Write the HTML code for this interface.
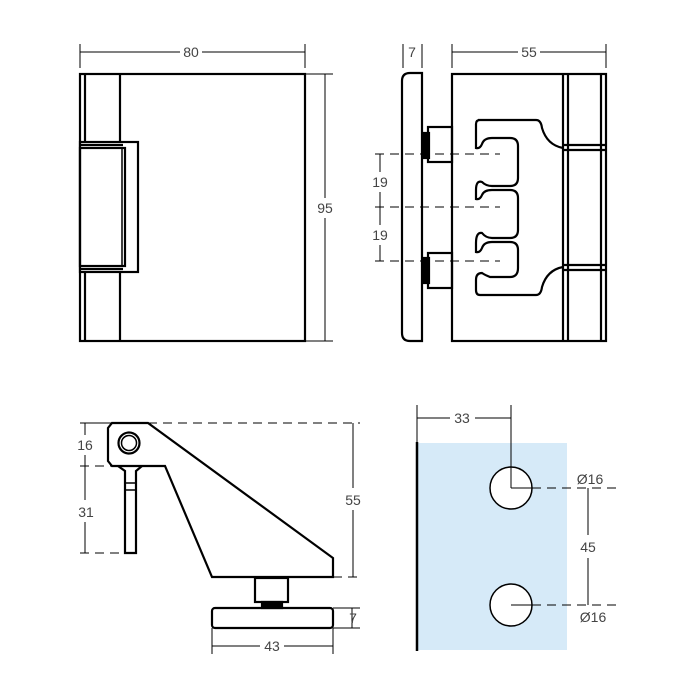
<!DOCTYPE html>
<html><head><style>body{margin:0;background:#fff}svg{display:block}text{font-family:"Liberation Sans",sans-serif;font-size:14px;fill:#444}</style></head><body>
<svg width="700" height="700" viewBox="0 0 700 700" xmlns="http://www.w3.org/2000/svg">
<g fill="none" stroke="#000" stroke-width="2.2">
<!-- top-left view -->
<rect x="80" y="74" width="225" height="267"/>
<line x1="85" y1="74" x2="85" y2="341"/>
<line x1="120" y1="74" x2="120" y2="341"/>
<rect x="80" y="142" width="58" height="130" fill="#fff"/>
<rect x="80" y="148" width="45" height="118"/>
<line x1="80" y1="145" x2="123" y2="145"/>
<line x1="80" y1="269" x2="123" y2="269"/>
<line x1="122" y1="148" x2="122" y2="266" stroke-width="1.5"/>
<!-- top-right view -->
<path d="M410 73 H422 V341 H410 Q402 341 402 333 V81 Q402 73 410 73 Z"/>
<rect x="452" y="74" width="154" height="267"/>
<line x1="563" y1="74" x2="563" y2="341"/>
<line x1="568" y1="74" x2="568" y2="341"/>
<line x1="601" y1="74" x2="601" y2="341"/>
<line x1="563" y1="145" x2="606" y2="145"/><line x1="563" y1="150" x2="606" y2="150"/>
<line x1="563" y1="265" x2="606" y2="265"/><line x1="563" y1="270" x2="606" y2="270"/>
<rect x="428" y="127" width="24" height="35"/>
<rect x="428" y="253" width="24" height="35"/>
<rect x="424" y="133" width="5" height="25" fill="#000"/>
<rect x="424" y="258" width="5" height="25" fill="#000"/>
<path d="M478 120 H536 Q541 120 542 128 Q547 145 563 148 M563 267 Q547 270 542 287 Q541 295 536 295 H480 Q476 295 476 290 V280 Q476 273 482 273 Q485 275 490 277 H510 Q518 277 518 268 V250 Q518 242 510 242 H492 Q484 242 482 248 Q480 253 476 252 V243 Q476 232 482 233 Q486 238 492 238 H510 Q518 238 518 230 V198 Q518 190 510 190 H492 Q484 190 482 195 Q480 200 476 199 V190 Q476 180 482 182 Q486 186 492 186 H510 Q518 186 518 178 V146 Q518 138 510 138 H492 Q484 138 482 144 Q480 149 476 148 V124 Q476 120 480 120"/>
<!-- bottom-left view -->
<path d="M112 423 H148 L333 558 V577 H212 L165 466 H112 L108 461 V428 Z"/>
<circle cx="129" cy="443" r="10.5"/><circle cx="129" cy="443" r="7.5" stroke-width="1.5"/>
<path d="M118 466 L125 471 V553 H136 V471 L142 466"/>
<line x1="125" y1="483" x2="136" y2="483" stroke-width="1.5"/><line x1="125" y1="490" x2="136" y2="490" stroke-width="1.5"/>
<rect x="255" y="578" width="33" height="24"/>
<rect x="262" y="602" width="20" height="6" fill="#000"/>
<rect x="212" y="608" width="121" height="20" rx="3"/>
<!-- bottom-right -->
</g>
<rect x="417" y="443" width="150" height="207" fill="#d6eaf8"/>
<g fill="none" stroke="#000">
<line x1="417" y1="442" x2="417" y2="651" stroke-width="2.5"/>
<circle cx="511" cy="488" r="21" fill="#fff" stroke-width="1.5"/>
<circle cx="511" cy="605" r="21" fill="#fff" stroke-width="1.5"/>
<g stroke-width="1">
<line x1="511" y1="405" x2="511" y2="488"/><line x1="511" y1="488" x2="532" y2="488"/>
<line x1="511" y1="605" x2="532" y2="605"/>
<line x1="417" y1="405" x2="417" y2="442"/>
<line x1="417" y1="418" x2="450" y2="418"/><line x1="475" y1="418" x2="511" y2="418"/>
<line x1="532" y1="488" x2="620" y2="488" stroke-dasharray="9,6"/>
<line x1="532" y1="605" x2="620" y2="605" stroke-dasharray="9,6"/>
<line x1="588" y1="488" x2="588" y2="535"/><line x1="588" y1="558" x2="588" y2="605"/>
<!-- top dims -->
<line x1="80" y1="44" x2="80" y2="68"/><line x1="305" y1="44" x2="305" y2="68"/>
<line x1="80" y1="52" x2="180" y2="52"/><line x1="202" y1="52" x2="305" y2="52"/>
<line x1="305" y1="74" x2="333" y2="74"/><line x1="305" y1="341" x2="333" y2="341"/>
<line x1="325" y1="74" x2="325" y2="198"/><line x1="325" y1="218" x2="325" y2="341"/>
<line x1="403" y1="44" x2="403" y2="68"/><line x1="422" y1="44" x2="422" y2="68"/>
<line x1="452" y1="44" x2="452" y2="68"/><line x1="606" y1="44" x2="606" y2="68"/>
<line x1="452" y1="52" x2="518" y2="52"/><line x1="540" y1="52" x2="606" y2="52"/>
<line x1="375" y1="154" x2="500" y2="154" stroke-dasharray="9,6"/>
<line x1="375" y1="207" x2="500" y2="207" stroke-dasharray="9,6"/>
<line x1="375" y1="261" x2="500" y2="261" stroke-dasharray="9,6"/>
<line x1="380" y1="154" x2="380" y2="172"/><line x1="380" y1="192" x2="380" y2="225"/><line x1="380" y1="245" x2="380" y2="261"/>
<!-- bottom-left dims -->
<line x1="80" y1="423" x2="112" y2="423"/>
<line x1="148" y1="423" x2="360" y2="423" stroke-dasharray="9,6"/>
<line x1="80" y1="466" x2="112" y2="466" stroke-dasharray="9,6"/>
<line x1="80" y1="553" x2="125" y2="553" stroke-dasharray="9,6"/>
<line x1="85" y1="423" x2="85" y2="435"/><line x1="85" y1="455" x2="85" y2="500"/><line x1="85" y1="522" x2="85" y2="553"/>
<line x1="333" y1="577" x2="360" y2="577" stroke-dasharray="9,6"/>
<line x1="353" y1="423" x2="353" y2="488"/><line x1="353" y1="510" x2="353" y2="577"/>
<line x1="333" y1="608" x2="360" y2="608"/><line x1="333" y1="628" x2="360" y2="628"/>
<line x1="352" y1="608" x2="352" y2="628"/>
<line x1="212" y1="628" x2="212" y2="654"/><line x1="333" y1="628" x2="333" y2="654"/>
<line x1="212" y1="646" x2="260" y2="646"/><line x1="284" y1="646" x2="333" y2="646"/>
</g></g>
<text x="191" y="57" text-anchor="middle">80</text>
<text x="325" y="213" text-anchor="middle">95</text>
<text x="412" y="57" text-anchor="middle">7</text>
<text x="529" y="57" text-anchor="middle">55</text>
<text x="380" y="187" text-anchor="middle">19</text>
<text x="380" y="240" text-anchor="middle">19</text>
<text x="85" y="450" text-anchor="middle">16</text>
<text x="86" y="517" text-anchor="middle">31</text>
<text x="353" y="505" text-anchor="middle">55</text>
<text x="353" y="623" text-anchor="middle">7</text>
<text x="272" y="651" text-anchor="middle">43</text>
<text x="462" y="423" text-anchor="middle">33</text>
<text x="588" y="552" text-anchor="middle">45</text>
<text x="590" y="484" text-anchor="middle" font-size="13">Ø16</text>
<text x="593" y="622" text-anchor="middle" font-size="13">Ø16</text>
</svg>
</body></html>
